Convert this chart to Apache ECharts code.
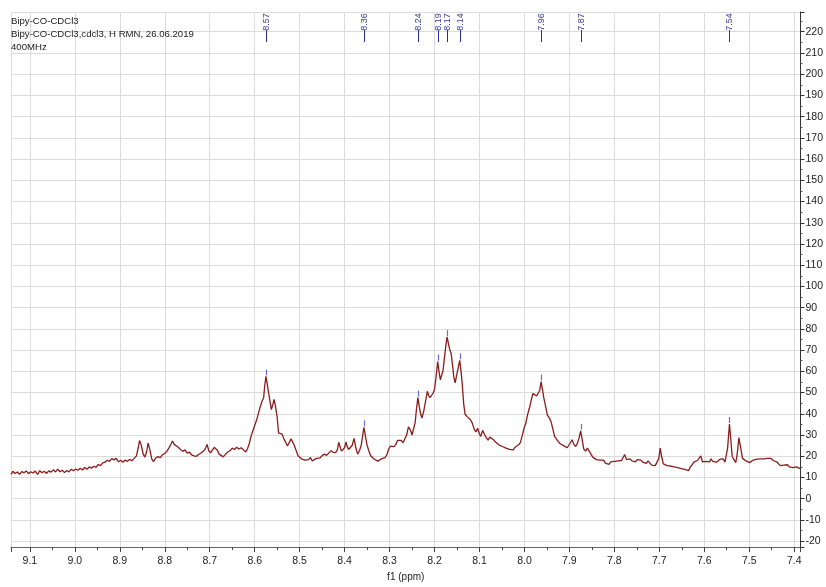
<!DOCTYPE html>
<html>
<head>
<meta charset="utf-8">
<title>Bipy-CO-CDCl3</title>
<script src="https://cdn.jsdelivr.net/npm/echarts@6.0.0/dist/echarts.min.js"></script>
<style>
  html, body { margin: 0; padding: 0; background: #fff; }
  #chart { width: 826px; height: 587px; }
</style>
</head>
<body>
<div id="chart"></div>
<script>
// 1H spectrum, [shift (ppm), intensity]
var spectrum = [
  [9.142, 11.4], [9.138, 12.9], [9.133, 11.9], [9.128, 12.6], [9.123, 11.5], [9.118, 12.8], [9.113, 12.2], [9.108, 13.1],
  [9.103, 11.8], [9.098, 12.7], [9.093, 12.1], [9.088, 13.0], [9.083, 11.4], [9.078, 13.2], [9.073, 12.2], [9.068, 12.9],
  [9.063, 11.9], [9.058, 13.1], [9.053, 12.5], [9.048, 13.6], [9.043, 12.6], [9.038, 13.9], [9.033, 12.7], [9.028, 13.4],
  [9.023, 12.3], [9.018, 13.3], [9.013, 12.6], [9.008, 13.9], [9.003, 13.2], [8.998, 14.0], [8.993, 13.4], [8.988, 14.3],
  [8.983, 13.5], [8.978, 14.7], [8.973, 13.9], [8.968, 15.0], [8.963, 14.4], [8.958, 15.3], [8.953, 14.8], [8.948, 16.1],
  [8.943, 15.6], [8.938, 16.9], [8.933, 17.2], [8.928, 18.1], [8.923, 17.6], [8.918, 18.9], [8.913, 18.3], [8.908, 19.0],
  [8.903, 17.4], [8.898, 18.1], [8.893, 17.2], [8.888, 18.2], [8.883, 17.6], [8.878, 18.5], [8.873, 17.9], [8.868, 19.0],
  [8.863, 20.2], [8.859, 24.0], [8.856, 27.4], [8.852, 25.0], [8.848, 21.0], [8.844, 19.6], [8.840, 22.5], [8.837, 26.2],
  [8.833, 23.0], [8.829, 18.8], [8.825, 17.4], [8.820, 19.2], [8.815, 19.8], [8.810, 19.3], [8.805, 20.8], [8.800, 21.3],
  [8.795, 22.4], [8.790, 24.2], [8.786, 25.8], [8.783, 27.2], [8.779, 25.6], [8.775, 26.0], [8.770, 24.2], [8.765, 23.2],
  [8.760, 22.3], [8.755, 23.0], [8.750, 21.5], [8.745, 21.9], [8.740, 20.6], [8.735, 20.2], [8.730, 19.9], [8.725, 20.8],
  [8.720, 21.4], [8.715, 22.2], [8.710, 23.4], [8.706, 25.6], [8.702, 22.6], [8.698, 21.6], [8.694, 22.0], [8.690, 24.2],
  [8.687, 25.0], [8.683, 22.8], [8.679, 21.0], [8.675, 20.3], [8.670, 19.7], [8.665, 20.9], [8.660, 22.0], [8.655, 22.6],
  [8.650, 23.8], [8.645, 23.2], [8.640, 24.2], [8.635, 23.4], [8.630, 24.0], [8.625, 23.0], [8.620, 22.0], [8.616, 23.5],
  [8.612, 26.0], [8.608, 29.5], [8.604, 32.0], [8.600, 34.5], [8.596, 36.8], [8.592, 40.0], [8.588, 43.0], [8.584, 45.8],
  [8.580, 47.6], [8.578, 52.5], [8.575, 57.6], [8.572, 54.0], [8.569, 49.8], [8.566, 46.0], [8.563, 42.0], [8.560, 44.0],
  [8.557, 46.8], [8.554, 44.0], [8.550, 38.5], [8.547, 31.0], [8.543, 31.8], [8.539, 30.4], [8.535, 28.2], [8.531, 26.5],
  [8.527, 24.8], [8.523, 25.6], [8.519, 28.2], [8.516, 28.6], [8.512, 25.2], [8.508, 22.8], [8.504, 20.4], [8.500, 19.6],
  [8.496, 18.8], [8.492, 19.2], [8.488, 18.2], [8.484, 19.0], [8.480, 18.4], [8.476, 19.4], [8.472, 17.8], [8.468, 18.6],
  [8.464, 18.9], [8.460, 19.7], [8.455, 19.2], [8.450, 20.3], [8.445, 21.0], [8.440, 20.4], [8.435, 21.6], [8.430, 22.6],
  [8.425, 21.8], [8.420, 21.7], [8.416, 23.0], [8.413, 26.6], [8.410, 24.5], [8.407, 22.4], [8.403, 22.9], [8.400, 24.0],
  [8.397, 26.8], [8.394, 24.4], [8.391, 23.2], [8.387, 24.0], [8.383, 25.2], [8.379, 28.4], [8.375, 24.0], [8.371, 21.0],
  [8.367, 22.6], [8.363, 25.2], [8.360, 29.5], [8.357, 33.6], [8.354, 30.0], [8.350, 25.2], [8.346, 22.5], [8.342, 20.2],
  [8.338, 19.4], [8.334, 18.6], [8.330, 18.0], [8.326, 17.7], [8.322, 18.3], [8.318, 18.8], [8.314, 18.4], [8.310, 19.4],
  [8.306, 20.6], [8.302, 23.4], [8.298, 24.8], [8.294, 24.0], [8.290, 24.5], [8.286, 25.6], [8.282, 27.5], [8.278, 28.2],
  [8.274, 27.5], [8.270, 26.4], [8.266, 27.0], [8.262, 30.0], [8.258, 33.8], [8.254, 32.6], [8.250, 30.0], [8.246, 29.4],
  [8.243, 36.0], [8.240, 42.5], [8.237, 47.6], [8.234, 43.5], [8.231, 40.0], [8.228, 38.0], [8.224, 41.2], [8.220, 45.8],
  [8.216, 50.6], [8.213, 48.6], [8.210, 47.6], [8.206, 48.2], [8.203, 49.8], [8.200, 51.6], [8.197, 56.4], [8.193, 64.6],
  [8.190, 60.0], [8.187, 56.0], [8.184, 55.4], [8.181, 60.4], [8.178, 66.2], [8.175, 71.8], [8.172, 76.2], [8.169, 73.0],
  [8.166, 70.2], [8.163, 68.4], [8.160, 63.0], [8.157, 57.2], [8.154, 54.6], [8.151, 58.0], [8.147, 62.0], [8.144, 65.2],
  [8.141, 60.0], [8.138, 53.0], [8.135, 44.5], [8.132, 39.8], [8.128, 38.8], [8.124, 38.2], [8.120, 37.2], [8.116, 35.6],
  [8.112, 32.8], [8.108, 31.5], [8.104, 33.2], [8.100, 30.4], [8.097, 29.4], [8.093, 32.2], [8.089, 30.4], [8.085, 28.8],
  [8.081, 27.6], [8.077, 29.0], [8.073, 28.2], [8.069, 27.8], [8.065, 26.8], [8.061, 26.0], [8.057, 25.4], [8.053, 25.6],
  [8.049, 24.6], [8.045, 24.4], [8.041, 23.8], [8.037, 24.0], [8.033, 23.2], [8.029, 23.6], [8.025, 23.0], [8.021, 24.2],
  [8.017, 24.6], [8.013, 25.4], [8.009, 26.4], [8.005, 29.6], [8.001, 33.2], [7.997, 35.4], [7.993, 39.6], [7.989, 42.6],
  [7.985, 46.4], [7.981, 49.6], [7.977, 49.0], [7.973, 48.4], [7.969, 47.6], [7.966, 51.0], [7.963, 55.2], [7.960, 51.5],
  [7.957, 47.6], [7.953, 43.6], [7.949, 39.4], [7.945, 38.2], [7.941, 36.4], [7.937, 33.0], [7.933, 29.4], [7.929, 28.2],
  [7.925, 27.0], [7.921, 26.0], [7.917, 25.4], [7.913, 25.0], [7.909, 24.4], [7.905, 24.0], [7.901, 24.8], [7.897, 26.6],
  [7.894, 27.8], [7.890, 25.6], [7.886, 24.6], [7.882, 26.2], [7.878, 29.0], [7.875, 32.0], [7.872, 28.4], [7.868, 23.4],
  [7.864, 22.4], [7.860, 23.8], [7.856, 23.4], [7.852, 21.0], [7.848, 19.6], [7.844, 19.0], [7.840, 18.4], [7.836, 17.6],
  [7.832, 18.2], [7.828, 17.4], [7.824, 18.2], [7.820, 16.8], [7.816, 17.6], [7.812, 16.2], [7.808, 17.4], [7.804, 16.6],
  [7.800, 17.6], [7.796, 16.8], [7.792, 17.8], [7.788, 17.2], [7.784, 18.0], [7.780, 18.6], [7.777, 20.8], [7.773, 18.4],
  [7.769, 17.6], [7.765, 18.8], [7.761, 17.8], [7.757, 18.6], [7.753, 17.4], [7.749, 18.4], [7.745, 17.6], [7.741, 18.2],
  [7.737, 17.2], [7.733, 17.8], [7.729, 16.6], [7.725, 17.8], [7.721, 16.8], [7.717, 15.8], [7.713, 16.6], [7.709, 15.6],
  [7.705, 14.8], [7.701, 19.0], [7.698, 23.8], [7.695, 20.0], [7.691, 16.4], [7.687, 16.8], [7.683, 15.6], [7.679, 16.2],
  [7.675, 15.4], [7.671, 15.9], [7.667, 15.0], [7.663, 15.8], [7.659, 14.6], [7.655, 15.2], [7.651, 14.2], [7.647, 14.8],
  [7.643, 13.8], [7.639, 14.6], [7.635, 13.2], [7.631, 15.0], [7.627, 16.0], [7.623, 17.2], [7.619, 16.8], [7.615, 18.0],
  [7.611, 17.6], [7.608, 20.2], [7.604, 17.4], [7.600, 16.8], [7.596, 17.6], [7.592, 18.2], [7.588, 17.4], [7.585, 18.8],
  [7.581, 17.6], [7.577, 18.4], [7.573, 17.2], [7.569, 17.8], [7.565, 18.6], [7.561, 18.2], [7.558, 18.8], [7.554, 17.2],
  [7.551, 18.0], [7.548, 24.0], [7.544, 35.2], [7.541, 28.0], [7.538, 20.0], [7.534, 18.4], [7.530, 17.0], [7.527, 20.6],
  [7.523, 28.8], [7.519, 24.0], [7.515, 19.0], [7.511, 18.4], [7.507, 17.8], [7.503, 18.6], [7.499, 17.0], [7.495, 17.8],
  [7.491, 18.2], [7.487, 17.6], [7.483, 18.6], [7.479, 18.2], [7.475, 18.8], [7.471, 18.0], [7.467, 18.8], [7.463, 18.2],
  [7.459, 19.0], [7.455, 18.4], [7.451, 19.0], [7.447, 18.0], [7.443, 18.8], [7.439, 17.4], [7.435, 17.0], [7.431, 15.6],
  [7.427, 14.8], [7.423, 15.8], [7.419, 15.2], [7.415, 16.0], [7.411, 15.0], [7.407, 15.6], [7.403, 14.6], [7.399, 15.4],
  [7.395, 15.0], [7.391, 14.4], [7.387, 14.2]
]

// picked peaks
var peakShift = [8.575, 8.357, 8.237, 8.193, 8.172, 8.144, 7.963, 7.875, 7.544]
var peakHeight = [57.6, 33.6, 47.6, 64.6, 76.2, 65.2, 55.2, 32.0, 35.2]
var peakLabels = ['8.57', '8.36', '8.24', '8.19', '8.17', '8.14', '7.96', '7.87', '7.54']

var titleLines = ['Bipy-CO-CDCl3', 'Bipy-CO-CDCl3,cdcl3, H RMN, 26.06.2019', '400MHz']

var FONT = 'Liberation Sans'

var chart = echarts.init(document.getElementById('chart'))

chart.setOption({
  animation: false,
  backgroundColor: '#fff',
  title: {
    text: titleLines.join('\n'),
    left: 6,
    top: 10,
    textStyle: {
      fontFamily: FONT,
      fontSize: 9.6,
      fontWeight: 'normal',
      color: '#222',
      lineHeight: 13
    }
  },
  grid: {
    left: 11,
    right: 23,
    top: 12,
    bottom: 30
  },
  xAxis: {
    type: 'value',
    inverse: true,
    min: 7.386,
    max: 9.142,
    splitNumber: 17,
    minInterval: 0.1,
    maxInterval: 0.1,
    name: 'f1 (ppm)',
    nameLocation: 'middle',
    nameGap: 18,
    nameTextStyle: { fontFamily: FONT, fontSize: 10, color: '#222' },
    axisLine: { onZero: false, lineStyle: { color: '#666', width: 1 } },
    axisTick: { length: 5, lineStyle: { color: '#444' } },
    minorTick: { show: true, splitNumber: 2, length: 3, lineStyle: { color: '#444' } },
    axisLabel: {
      margin: 9,
      fontFamily: FONT,
      fontSize: 10.5,
      color: '#222',
      showMinLabel: false,
      showMaxLabel: false,
      formatter: function (v) { return v.toFixed(1) }
    },
    splitLine: { show: true, lineStyle: { color: '#dcdcdc', width: 1 } }
  },
  yAxis: {
    type: 'value',
    position: 'right',
    min: -22.8,
    max: 229.3,
    splitNumber: 25,
    minInterval: 10,
    maxInterval: 10,
    axisLine: { show: true, onZero: false, lineStyle: { color: '#333', width: 1 } },
    axisTick: { show: true, length: 4, lineStyle: { color: '#333' } },
    minorTick: { show: true, splitNumber: 2, length: 2, lineStyle: { color: '#555' } },
    axisLabel: {
      margin: 5,
      fontFamily: FONT,
      fontSize: 10.5,
      color: '#222',
      showMinLabel: false,
      showMaxLabel: false
    },
    splitLine: { show: true, lineStyle: { color: '#dcdcdc', width: 1 } }
  },
  series: [
    {
      name: 'spectrum',
      type: 'line',
      data: spectrum,
      showSymbol: false,
      symbol: 'none',
      lineStyle: { color: '#8b1c1c', width: 1.3 },
      z: 3
    },
    {
      name: 'peaks',
      type: 'custom',
      data: peakShift.map(function (s, i) { return [s, peakHeight[i]] }),
      z: 4,
      renderItem: function (params, api) {
        var p = api.coord([api.value(0), api.value(1)])
        var x = Math.round(p[0]) + 0.5
        return {
          type: 'group',
          children: [
            {
              type: 'line',
              shape: { x1: x, y1: 30, x2: x, y2: 42 },
              style: { stroke: '#2b2ba6', lineWidth: 1 }
            },
            {
              type: 'line',
              shape: { x1: x, y1: p[1] - 1, x2: x, y2: p[1] - 7 },
              style: { stroke: '#6b6bd6', lineWidth: 1.2 }
            },
            {
              type: 'text',
              x: x,
              y: 22,
              rotation: Math.PI / 2,
              style: {
                text: peakLabels[params.dataIndex],
                fill: '#3a3a9a',
                font: '9px ' + FONT,
                align: 'center',
                verticalAlign: 'middle'
              }
            }
          ]
        }
      }
    }
  ]
})
</script>
</body>
</html>
